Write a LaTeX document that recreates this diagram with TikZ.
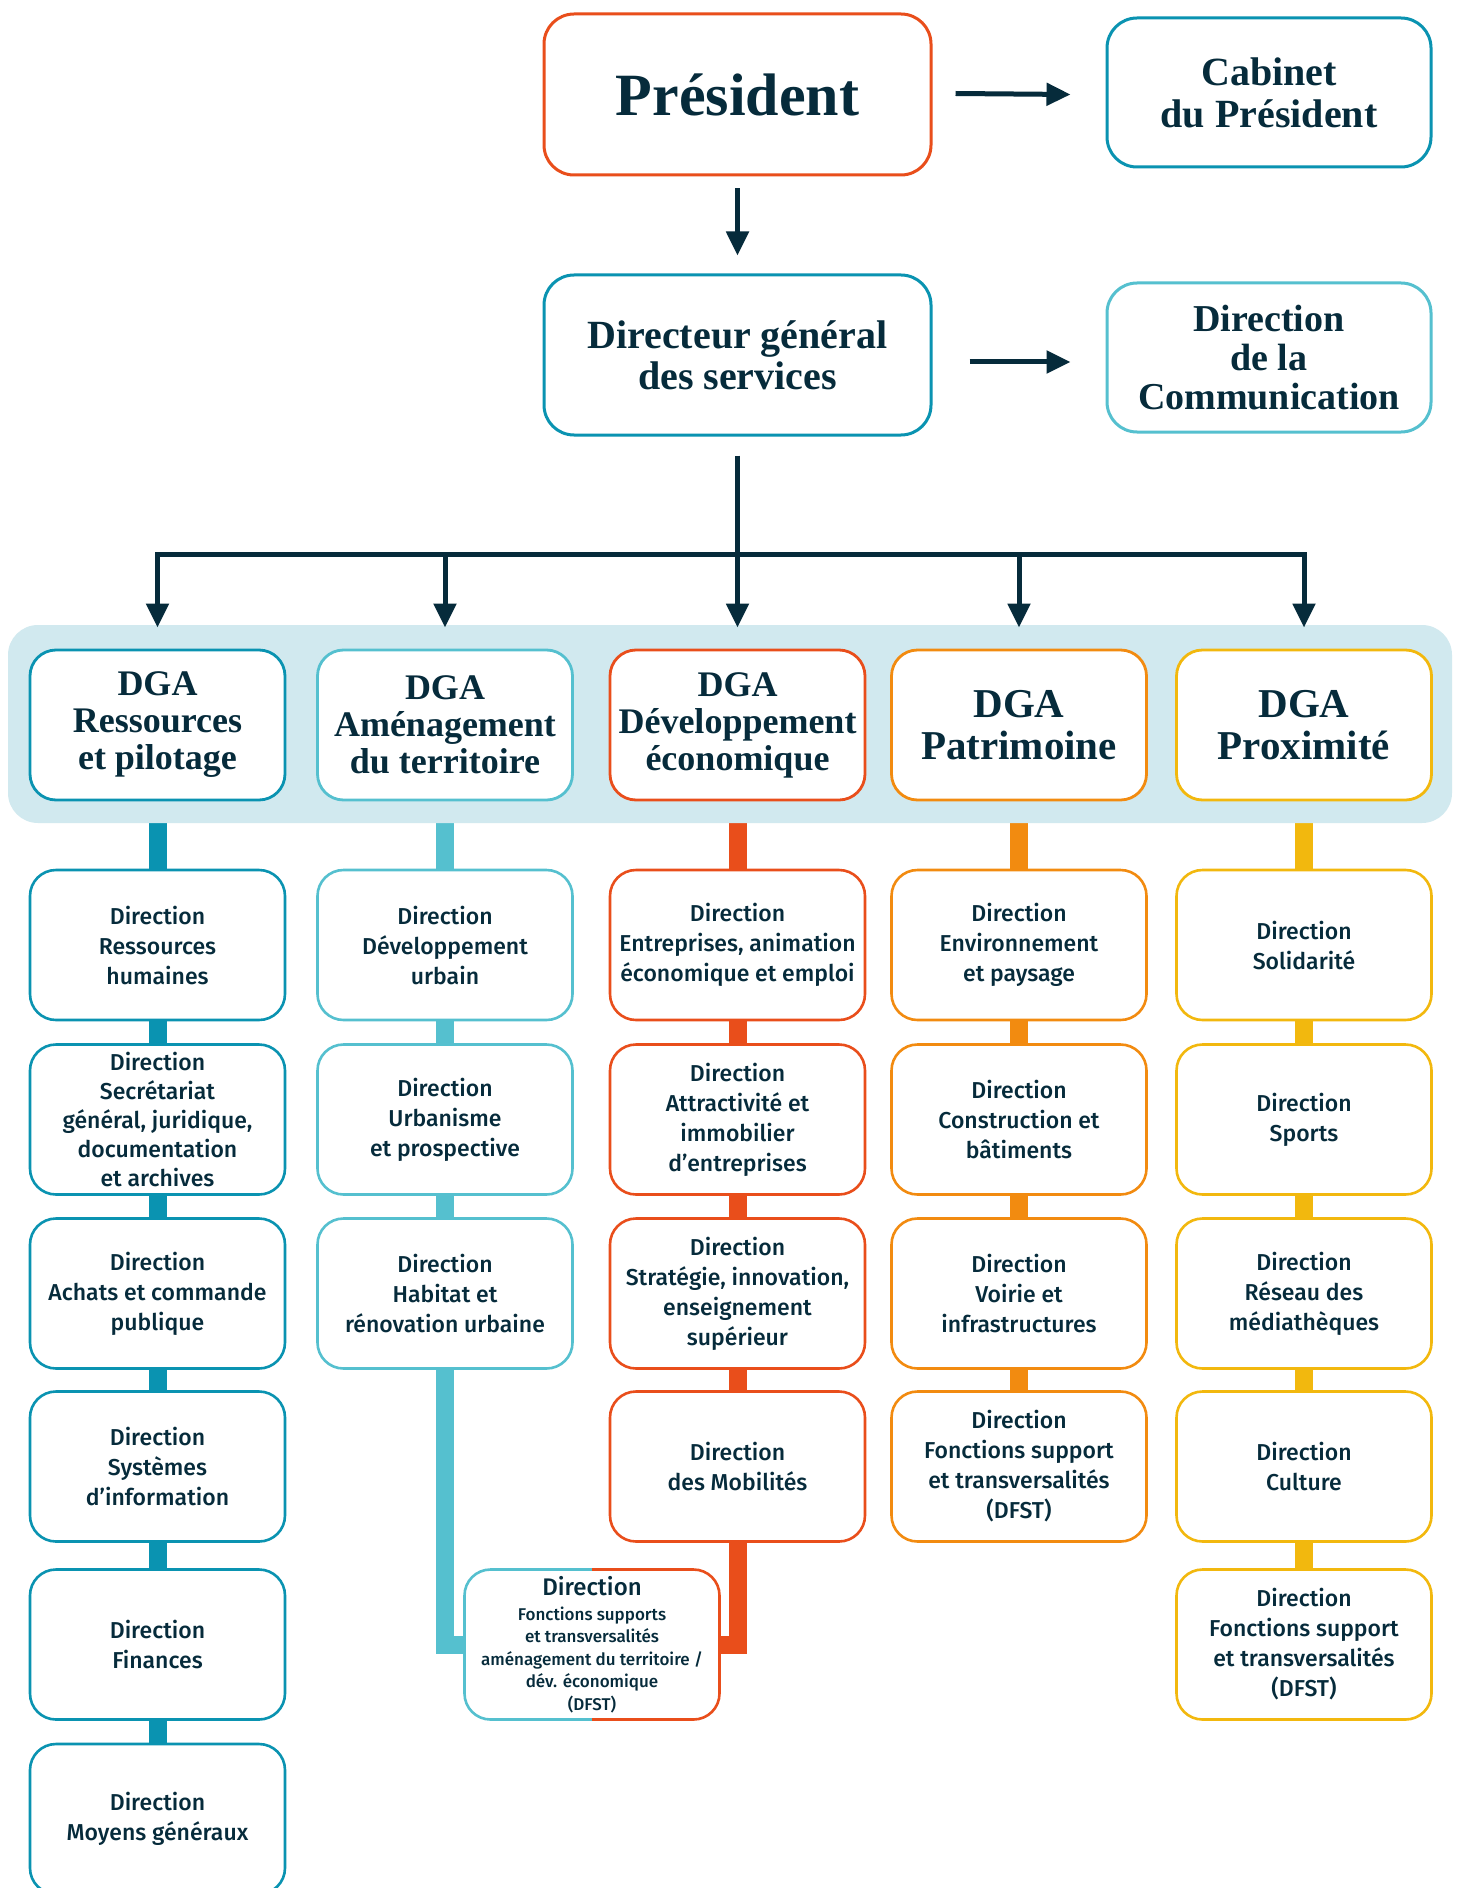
\documentclass[tikz,border=0pt]{standalone}
\usepackage{fontspec}
\usetikzlibrary{arrows.meta,backgrounds}
\newfontfamily\headfont{Liberation Serif}
\newfontfamily\bodyfont{Fira Sans Medium}
\definecolor{navy}{HTML}{062B3B}
\definecolor{tealA}{HTML}{0A93B1}
\definecolor{tealB}{HTML}{55C0CF}
\definecolor{redA}{HTML}{E94E1B}
\definecolor{orangeA}{HTML}{F28B10}
\definecolor{yellowA}{HTML}{F2B80E}
\definecolor{bandc}{HTML}{D1E9EF}
\tikzset{
  topbox/.style={draw=#1, line width=1.5pt, rounded corners=15pt, fill=white, align=center, text=navy, inner sep=0pt},
  dgabox/.style={draw=#1, line width=1.4pt, rounded corners=13pt, fill=white, minimum width=127.5pt, minimum height=75pt, align=center, text=navy, inner sep=0pt},
  subbox/.style={draw=#1, line width=1.3pt, rounded corners=13pt, fill=white, minimum width=127.5pt, minimum height=75pt, align=center, text=navy, inner sep=0pt, font=\bodyfont\fontsize{11.5}{15}\selectfont},
  arr/.style={draw=navy, line width=2.5pt, -{Triangle[length=12pt,width=11pt]}},
  navyline/.style={draw=navy, line width=2.5pt},
  bar/.style={draw=#1, line width=9pt},
  hsmall/.style={font=\headfont\bfseries\fontsize{18}{18.5}\selectfont},
  hbig/.style={font=\headfont\bfseries\fontsize{20.5}{21}\selectfont},
}
\begin{document}
\begin{tikzpicture}[x=0.5pt,y=-0.5pt]
\useasboundingbox (0,0) rectangle (1456,1888);

% top
\node[topbox=redA, minimum width=193.5pt, minimum height=80.5pt, font=\headfont\bfseries\fontsize{30}{32}\selectfont] (pres) at (737.5,94.5) {Président};
\node[topbox=tealA, minimum width=162pt, minimum height=74.5pt, font=\headfont\bfseries\fontsize{20}{21}\selectfont] (cab) at (1269,92.5) {Cabinet\\du Président};
\node[topbox=tealA, minimum width=193.5pt, minimum height=80pt, font=\headfont\bfseries\fontsize{20}{20.5}\selectfont] (dg) at (737.5,355) {Directeur général\\des services};
\node[topbox=tealB, minimum width=162pt, minimum height=74.5pt, font=\headfont\bfseries\fontsize{19}{19.5}\selectfont] (comm) at (1269,357.5) {Direction\\de la\\Communication};

% band
\node[fill=bandc, draw=none, rounded corners=15pt, minimum width=722pt, minimum height=99pt, inner sep=0pt] (band) at (730,724) {};

% DGA
\node[dgabox=tealA, hsmall] (dga1) at (157.5,725) {DGA\\Ressources\\et pilotage};
\node[dgabox=tealB, hsmall] (dga2) at (445,725) {DGA\\Aménagement\\du territoire};
\node[dgabox=redA, hsmall] (dga3) at (737.5,725) {DGA\\Développement\\économique};
\node[dgabox=orangeA, hbig] (dga4) at (1019,725) {DGA\\Patrimoine};
\node[dgabox=yellowA, hbig] (dga5) at (1304,725) {DGA\\Proximité};

% column 1
\node[subbox=tealA] (s11) at (157.5,945) {Direction\\Ressources\\humaines};
\node[subbox=tealA, font=\bodyfont\fontsize{11.5}{14.5}\selectfont] (s12) at (157.5,1119.5) {Direction\\Secrétariat\\général, juridique,\\documentation\\et archives};
\node[subbox=tealA] (s13) at (157.5,1293.5) {Direction\\Achats et commande\\publique};
\node[subbox=tealA] (s14) at (157.5,1466.5) {Direction\\Systèmes\\d’information};
\node[subbox=tealA] (s15) at (157.5,1644.5) {Direction\\Finances};
\node[subbox=tealA] (s16) at (157.5,1819) {Direction\\Moyens généraux};

% column 2
\node[subbox=tealB] (s21) at (445,945) {Direction\\Développement\\urbain};
\node[subbox=tealB] (s22) at (445,1119.5) {Direction\\Urbanisme\\et prospective};
\node[subbox=tealB] (s23) at (445,1293.5) {Direction\\Habitat et\\rénovation urbaine};

% column 3
\node[subbox=redA] (s31) at (737.5,945) {Direction\\Entreprises, animation\\économique et emploi};
\node[subbox=redA] (s32) at (737.5,1119.5) {Direction\\Attractivité et\\immobilier\\d’entreprises};
\node[subbox=redA] (s33) at (737.5,1293.5) {Direction\\Stratégie, innovation,\\enseignement\\supérieur};
\node[subbox=redA] (s34) at (737.5,1466.5) {Direction\\des Mobilités};

% column 4
\node[subbox=orangeA] (s41) at (1019,945) {Direction\\Environnement\\et paysage};
\node[subbox=orangeA] (s42) at (1019,1119.5) {Direction\\Construction et\\bâtiments};
\node[subbox=orangeA] (s43) at (1019,1293.5) {Direction\\Voirie et\\infrastructures};
\node[subbox=orangeA] (s44) at (1019,1466.5) {Direction\\Fonctions support\\et transversalités\\(DFST)};

% column 5
\node[subbox=yellowA] (s51) at (1304,945) {Direction\\Solidarité};
\node[subbox=yellowA] (s52) at (1304,1119.5) {Direction\\Sports};
\node[subbox=yellowA] (s53) at (1304,1293.5) {Direction\\Réseau des\\médiathèques};
\node[subbox=yellowA] (s54) at (1304,1466.5) {Direction\\Culture};
\node[subbox=yellowA] (s55) at (1304,1644.5) {Direction\\Fonctions support\\et transversalités\\(DFST)};

% shared DFST
\node[subbox=white, draw=none, outer sep=0pt, font=\bodyfont\fontsize{8.5}{11.3}\selectfont] (dfst) at (592,1644.5)
  {{\fontsize{12}{14}\selectfont Direction}\\[1.2pt]Fonctions supports\\et transversalités\\aménagement du territoire /\\dév. économique\\(DFST)};
\begin{scope}
  \clip ([xshift=-80pt,yshift=-50pt]dfst.center) rectangle ([yshift=50pt]dfst.center);
  \draw[tealB, line width=1.3pt, rounded corners=13pt] (dfst.south west) rectangle (dfst.north east);
\end{scope}
\begin{scope}
  \clip ([xshift=80pt,yshift=-50pt]dfst.center) rectangle ([yshift=50pt]dfst.center);
  \draw[redA, line width=1.3pt, rounded corners=13pt] (dfst.south west) rectangle (dfst.north east);
\end{scope}

% arrows
\draw[arr] ([xshift=11.5pt,yshift=0.5pt]pres.east) -- ([xshift=-17.5pt]cab.west |- pres.east);
\draw[arr] ([yshift=-6pt]pres.south) -- ([yshift=9pt]dg.north);
\draw[arr] ([xshift=18.5pt,yshift=-3.5pt]dg.east) -- ([xshift=-17.5pt,yshift=-3.5pt]comm.west |- dg.east);
\coordinate (hub) at (737.5,554);
\draw[navyline] ([yshift=-9.5pt]dg.south) -- (hub);
\draw[arr] (hub) -| ([yshift=10.5pt]dga1.north);
\draw[arr] (hub) -| ([yshift=10.5pt]dga5.north);
\draw[arr] (hub -| dga2) -- ([yshift=10.5pt]dga2.north);
\draw[arr] (hub) -- ([yshift=10.5pt]dga3.north);
\draw[arr] (hub -| dga4) -- ([yshift=10.5pt]dga4.north);

% bars
\begin{pgfonlayer}{background}
  \fill[white] (0,0) rectangle (1456,1888);
  \draw[bar=tealA] (band.south -| s11) -- (s16.center);
  \draw[bar=tealB] (band.south -| s21) |- (dfst.west);
  \draw[bar=redA] (band.south -| s31) |- (dfst.east);
  \draw[bar=orangeA] (band.south -| s41) -- (s44.center);
  \draw[bar=yellowA] (band.south -| s51) -- (s55.center);
\end{pgfonlayer}
\end{tikzpicture}
\end{document}
